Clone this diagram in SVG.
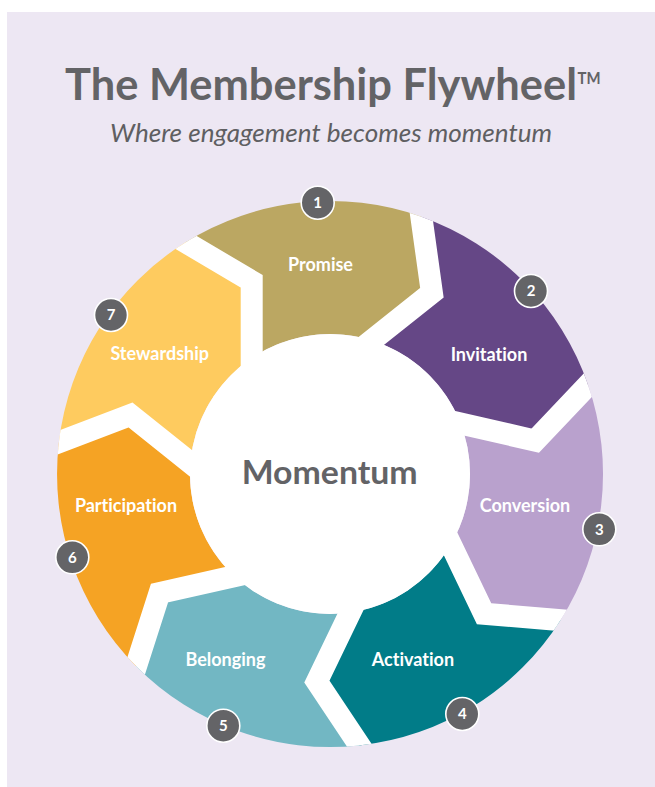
<svg xmlns="http://www.w3.org/2000/svg" width="655" height="787" viewBox="0 0 655 787">
  <defs>
    <style>
      text { font-variant-ligatures: none; font-feature-settings: "liga" 0, "clig" 0; }
      .title { font-family: Lato, "Open Sans", "Liberation Sans", sans-serif; font-weight: 700; fill: #636366; }
      .sub { font-family: Lato, "Open Sans", "Liberation Sans", sans-serif; font-style: italic; fill: #5f5f62; }
      .hub { font-family: Lato, "Open Sans", "Liberation Sans", sans-serif; font-weight: 700; fill: #636366; font-size: 32px; }
      .label { font-family: Lato, "Open Sans", "Liberation Sans", sans-serif; font-weight: 700; fill: #ffffff; font-size: 18px; text-anchor: middle; }
      .badge circle { fill: #646467; stroke: #ffffff; stroke-width: 1.6; }
      .badge text { font-family: Lato, "Open Sans", "Liberation Sans", sans-serif; font-weight: 700; fill: #ffffff; font-size: 15px; text-anchor: middle; }
      .sep { fill: none; stroke: #ffffff; stroke-width: 22; stroke-linejoin: miter; stroke-miterlimit: 10; }
    </style>
    <clipPath id="ring">
      <circle cx="330" cy="474" r="273"/>
    </clipPath>
  </defs>

  <!-- page -->
  <rect x="0" y="0" width="655" height="787" fill="#ffffff"/>
  <rect x="7" y="12" width="648" height="775" fill="#ede7f3"/>

  <!-- heading -->
  <g id="heading">
    <text class="title" x="65" y="99.5" font-size="43" textLength="512" lengthAdjust="spacingAndGlyphs">The Membership Flywheel</text>
    <text class="title" x="577.5" y="83.5" font-size="17.5" textLength="23" lengthAdjust="spacingAndGlyphs">TM</text>
    <text class="sub" x="110" y="141.7" font-size="24.5" textLength="442" lengthAdjust="spacingAndGlyphs">Where engagement becomes momentum</text>
  </g>

  <!-- wheel segments -->
  <g id="promise">
    <path fill="#bba762" d="M185.7,242.2 A273,273 0 0 1 421.3,216.7 L431.9,292.7 L371.9,340.4 A140,140 0 0 0 251.7,357.9 L251.7,281.3 Z"/>
  </g>
  <g id="invitation">
    <path fill="#654786" d="M421.3,216.7 A273,273 0 0 1 588.1,384.9 L535.3,440.6 L460.6,423.5 A140,140 0 0 0 371.9,340.4 L431.9,292.7 Z"/>
  </g>
  <g id="conversion">
    <path fill="#b9a1cd" d="M588.1,384.9 A273,273 0 0 1 560.5,620.2 L484.1,613.7 L450.9,544.6 A140,140 0 0 0 460.6,423.5 L535.3,440.6 Z"/>
  </g>
  <g id="activation">
    <path fill="#017c88" d="M560.5,620.2 A273,273 0 0 1 359.4,745.4 L316.9,681.6 L350.2,612.5 A140,140 0 0 0 450.9,544.6 L484.1,613.7 Z"/>
  </g>
  <g id="belonging">
    <path fill="#72b7c3" d="M359.4,745.4 A273,273 0 0 1 136.1,666.2 L159.5,593.1 L234.3,576.1 A140,140 0 0 0 350.2,612.5 L316.9,681.6 Z"/>
  </g>
  <g id="participation">
    <path fill="#f5a324" d="M136.1,666.2 A273,273 0 0 1 58.9,442.3 L130.5,415.0 L190.4,462.8 A140,140 0 0 0 234.3,576.1 L159.5,593.1 Z"/>
  </g>
  <g id="stewardship">
    <path fill="#fecb5f" d="M58.9,442.3 A273,273 0 0 1 185.7,242.2 L251.7,281.3 L251.7,357.9 A140,140 0 0 0 190.4,462.8 L130.5,415.0 Z"/>
  </g>

  <!-- chevron gaps between stages -->
  <g id="connectors" clip-path="url(#ring)">
    <path class="sep" d="M159.3,226.6 L251.7,281.3 L251.7,377.1"/>
    <path class="sep" d="M417.1,186.3 L431.9,292.7 L356.9,352.3"/>
    <path class="sep" d="M609.2,362.6 L535.3,440.6 L441.9,419.2"/>
    <path class="sep" d="M591.1,622.8 L484.1,613.7 L442.6,527.3"/>
    <path class="sep" d="M376.4,770.9 L316.9,681.6 L358.5,595.2"/>
    <path class="sep" d="M126.7,695.4 L159.5,593.1 L253.0,571.9"/>
    <path class="sep" d="M30.3,453.2 L130.5,415.0 L205.4,474.8"/>
  </g>

  <!-- hub -->
  <g id="hub">
    <circle cx="330" cy="474" r="140" fill="#ffffff"/>
    <text class="hub" x="241.7" y="484.3" textLength="176" lengthAdjust="spacingAndGlyphs">Momentum</text>
  </g>

  <!-- stage labels -->
  <g id="labels">
    <text class="label" x="320.5" y="270.7">Promise</text>
    <text class="label" x="489" y="360.7">Invitation</text>
    <text class="label" x="525" y="511.7">Conversion</text>
    <text class="label" x="413" y="666">Activation</text>
    <text class="label" x="225.5" y="665.7">Belonging</text>
    <text class="label" x="126" y="511.7">Participation</text>
    <text class="label" x="159.7" y="360">Stewardship</text>
  </g>

  <!-- step numbers -->
  <g id="badge-1" class="badge"><circle cx="317.7" cy="202.7" r="16.5"/><text x="317.7" y="208">1</text></g>
  <g id="badge-2" class="badge"><circle cx="531" cy="291" r="16.5"/><text x="531" y="296.3">2</text></g>
  <g id="badge-3" class="badge"><circle cx="599.3" cy="529.3" r="16.5"/><text x="599.3" y="534.6">3</text></g>
  <g id="badge-4" class="badge"><circle cx="462.3" cy="714" r="16.5"/><text x="462.3" y="719.3">4</text></g>
  <g id="badge-5" class="badge"><circle cx="223.3" cy="725.7" r="16.5"/><text x="223.3" y="731">5</text></g>
  <g id="badge-6" class="badge"><circle cx="72.3" cy="557.3" r="16.5"/><text x="72.3" y="562.6">6</text></g>
  <g id="badge-7" class="badge"><circle cx="111" cy="315" r="16.5"/><text x="111" y="320.3">7</text></g>
</svg>
